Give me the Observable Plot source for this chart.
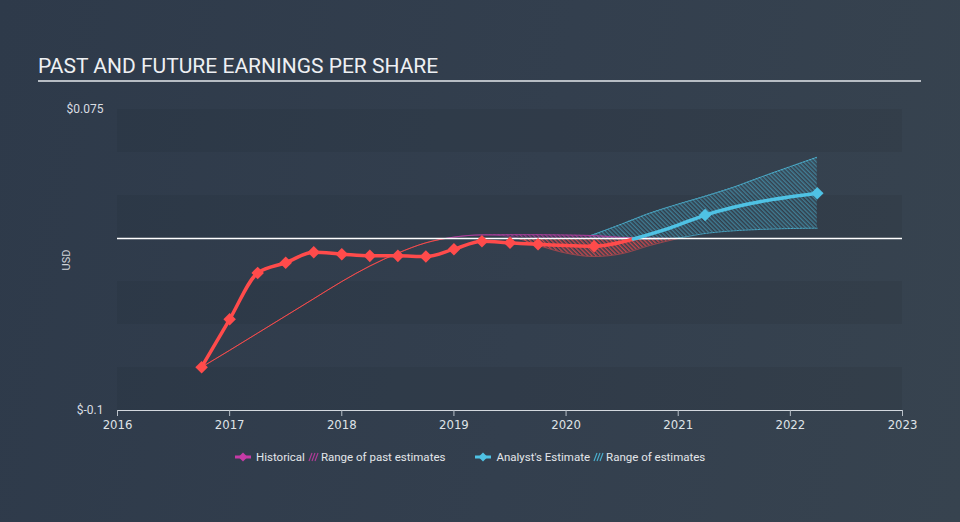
<!DOCTYPE html>
<html>
<head>
<meta charset="utf-8">
<script src="https://cdn.jsdelivr.net/npm/d3@7"></script>
<script src="https://cdn.jsdelivr.net/npm/@observablehq/plot@0.6"></script>
<style>
  html, body { margin: 0; padding: 0; }
  body {
    width: 960px; height: 522px; overflow: hidden; position: relative;
    background: linear-gradient(100deg, #2e3a4a 0%, #333f4e 55%, #37434f 100%);
    font-family: Roboto, "Noto Sans", sans-serif;
  }
  #title {
    position: absolute; left: 38px; top: 54px; font-size: 21px; color: #eef0f3;
    letter-spacing: 0; white-space: nowrap;
  }
  #rule { position: absolute; left: 38px; top: 80px; width: 883px; height: 2px; background: #b7bdc4; }
  #chart { position: absolute; left: 0; top: 0; }
  #usd {
    position: absolute; left: 66px; top: 260px; font-size: 11px; color: #cfd4da;
    transform: translate(-50%, -50%) rotate(-90deg);
  }
  #legend {
    position: absolute; left: 234px; top: 449px; height: 16px; display: flex; align-items: center;
    font-size: 11.5px; color: #e3e6ea; white-space: nowrap;
  }
  #legend svg { display: block; }
  .x-ticks text { font-family: "Liberation Sans Narrow", "DejaVu Sans Condensed", Roboto, sans-serif; }
</style>
</head>
<body>
<div id="title">PAST AND FUTURE EARNINGS PER SHARE</div>
<div id="rule"></div>
<div id="chart"></div>
<div id="usd">USD</div>
<div id="legend"></div>
<script>
// ---- data ----
const xTicks = [2016, 2017, 2018, 2019, 2020, 2021, 2022, 2023];
const yTicks = [-0.1, 0.075];
const bandTops = [0.075, 0.025, -0.025, -0.075];
const bandBottoms = [0.05, 0.0, -0.05, -0.1];

// historical EPS (last point is where the line hands over to the estimate, no marker)
const histX = [2016.75, 2017.0, 2017.25, 2017.5, 2017.75, 2018.0, 2018.25, 2018.5, 2018.75, 2019.0, 2019.25, 2019.5, 2019.75, 2020.25, 2020.6];
const histY = [-0.0748, -0.047, -0.020, -0.0141, -0.008, -0.0091, -0.0101, -0.0101, -0.0105, -0.0062, -0.0016, -0.0025, -0.0034, -0.0045, -0.0003];

// range of past estimates
const pastX = [2016.75, 2017.0, 2017.25, 2017.5, 2017.75, 2018.0, 2018.25, 2018.5, 2018.75, 2019.0, 2019.25, 2019.5, 2019.75, 2020.0, 2020.25, 2020.5, 2020.75, 2021.0];
const pastHigh = [-0.0748, -0.065, -0.055, -0.045, -0.035, -0.025, -0.016, -0.0085, -0.0025, 0.0008, 0.0021, 0.0022, 0.0022, 0.002, 0.0017, 0.0006, 0.0001, 0.0];
const pastLow = [-0.0748, -0.065, -0.055, -0.045, -0.035, -0.025, -0.016, -0.0085, -0.0025, 0.0008, 0.0021, 0.0012, -0.004, -0.0085, -0.0105, -0.0088, -0.004, 0.0];

// analyst estimate
const estX = [2020.6, 2020.93, 2021.24, 2022.24];
const estY = [-0.0003, 0.0062, 0.0136, 0.0263];
const estMarkX = [2021.24, 2022.24];
const estMarkY = [0.0136, 0.0263];

// range of estimates
const rangeX = [2020.22, 2020.5, 2020.75, 2021.0, 2021.25, 2021.5, 2021.75, 2022.0, 2022.24];
const rangeHigh = [0.0017, 0.0085, 0.0148, 0.020, 0.0248, 0.030, 0.036, 0.0418, 0.0473];
const rangeLow = [0.0, -0.0003, -0.0005, 0.0004, 0.003, 0.0045, 0.0053, 0.0058, 0.006];

// ---- colours ----
const RED = "#ff4b4b";
const PURPLE = "#b13da0";
const BLUE = "#4fc2e4";
const LEGEND_PURPLE = "#c53ba6";

// ---- tables ----
const bands = bandTops.map((t, i) => ({top: t, bottom: bandBottoms[i]}));
const hist = histX.map((x, i) => ({x, y: histY[i]}));
const histMarks = hist.slice(0, hist.length - 1);
const past = pastX.map((x, i) => ({x, hi: pastHigh[i], lo: pastLow[i]}));
const est = estX.map((x, i) => ({x, y: estY[i]}));
const estMarks = estMarkX.map((x, i) => ({x, y: estMarkY[i]}));
const range = rangeX.map((x, i) => ({x, hi: rangeHigh[i], lo: rangeLow[i]}));

const chart = Plot.plot({
  width: 960,
  height: 522,
  marginTop: 109,
  marginBottom: 112,
  marginLeft: 117,
  marginRight: 58,
  style: {background: "transparent", color: "#d3d8de", fontFamily: "Roboto, sans-serif", fontSize: "12px", overflow: "visible"},
  x: {domain: [2016, 2023], ticks: xTicks, tickFormat: d => String(d), label: null, tickSize: 6, tickPadding: 3, line: true},
  y: {domain: [-0.1, 0.075], ticks: yTicks, tickFormat: d => "$" + d, label: null, tickSize: 0, tickPadding: 14},
  marks: [
    Plot.rect(bands, {x1: () => 2016, x2: () => 2023, y1: "bottom", y2: "top", fill: "#1c2530", fillOpacity: 0.13}),
    // range of estimates
    Plot.areaY(range, {x: "x", y1: "lo", y2: "hi", fill: "url(#hatchBlue)", curve: "monotone-x"}),
    Plot.line(range, {x: "x", y: "hi", stroke: BLUE, strokeWidth: 1, strokeOpacity: 0.8, strokeDasharray: "2,1", curve: "monotone-x"}),
    Plot.line(range, {x: "x", y: "lo", stroke: BLUE, strokeWidth: 1, strokeOpacity: 0.8, strokeDasharray: "2,1", curve: "monotone-x"}),
    // range of past estimates, split at zero
    Plot.areaY(past, {x: "x", y1: d => Math.max(d.lo, 0), y2: d => Math.max(d.hi, 0), fill: "url(#hatchPurple)", curve: "monotone-x"}),
    Plot.areaY(past, {x: "x", y1: d => Math.min(d.lo, 0), y2: d => Math.min(d.hi, 0), fill: "url(#hatchRed)", curve: "monotone-x"}),
    Plot.line(past, {x: "x", y: "lo", stroke: "url(#pastGrad)", strokeWidth: 1, strokeOpacity: 0.5, curve: "monotone-x"}),
    Plot.line(past, {x: "x", y: "hi", stroke: "url(#pastGrad)", strokeWidth: 1, strokeOpacity: 0.9, curve: "monotone-x"}),
    // zero line
    Plot.ruleY([0], {stroke: "#ffffff", strokeWidth: 1.5}),
    // historical
    Plot.line(hist, {x: "x", y: "y", stroke: RED, strokeWidth: 3.5, curve: "monotone-x"}),
    Plot.dot(histMarks, {x: "x", y: "y", symbol: "square", rotate: 45, r: 5, fill: RED, stroke: "none"}),
    // estimate
    Plot.line(est, {x: "x", y: "y", stroke: BLUE, strokeWidth: 3.5, curve: "monotone-x"}),
    Plot.dot(estMarks, {x: "x", y: "y", symbol: "square", rotate: 45, r: 5, fill: BLUE, stroke: "none"})
  ]
});

// defs: hatch patterns + colour split at zero
const zeroY = chart.scale("y").apply(0);
const svg = d3.select(chart.tagName.toLowerCase() === "svg" ? chart : chart.querySelector("svg"));
const defs = svg.insert("defs", ":first-child");
function hatch(id, color, opacity) {
  const p = defs.append("pattern").attr("id", id).attr("patternUnits", "userSpaceOnUse")
    .attr("width", 3).attr("height", 3).attr("patternTransform", "rotate(-45)");
  p.append("line").attr("x1", 0.75).attr("y1", 0).attr("x2", 0.75).attr("y2", 3)
    .attr("stroke", color).attr("stroke-width", 1.4).attr("stroke-opacity", opacity);
}
hatch("hatchBlue", BLUE, 0.5);
hatch("hatchRed", RED, 0.75);
hatch("hatchPurple", PURPLE, 0.75);
const g = defs.append("linearGradient").attr("id", "pastGrad").attr("gradientUnits", "userSpaceOnUse")
  .attr("x1", 0).attr("x2", 0).attr("y1", zeroY + 1.5).attr("y2", zeroY - 0.5);
g.append("stop").attr("offset", 0).attr("stop-color", RED);
g.append("stop").attr("offset", 1).attr("stop-color", PURPLE);

// axis styling
svg.selectAll("[aria-label='x-axis'] path, [aria-label='x-axis'] line, [aria-label='x-axis tick']").attr("stroke", "#b9c0c8");
svg.selectAll("[aria-label='x-axis'], [aria-label='x-axis tick label']").classed("x-ticks", true);
svg.selectAll("[aria-label='x-axis'] text, [aria-label='x-axis tick label'] text").style("font-size", "13px").attr("fill", "#dfe3e7");
svg.selectAll("[aria-label='y-axis'] text, [aria-label='y-axis tick label'] text").style("font-size", "12px").attr("fill", "#d9dde2");

document.getElementById("chart").appendChild(chart);

// legend
const legend = d3.select("#legend");
function lineIcon(color) {
  const s = legend.append("svg").attr("width", 18).attr("height", 12);
  s.append("line").attr("x1", 1).attr("x2", 17).attr("y1", 6).attr("y2", 6).attr("stroke", color).attr("stroke-width", 3);
  s.append("path").attr("d", "M9,1.5 L13.5,6 L9,10.5 L4.5,6 Z").attr("fill", color);
  return s;
}
function hatchIcon(color) {
  const s = legend.append("svg").attr("width", 11).attr("height", 12).style("margin", "0 2px 0 3px");
  [0, 3, 6].forEach(o => s.append("line").attr("x1", 1 + o).attr("y1", 10).attr("x2", 4 + o).attr("y2", 2)
    .attr("stroke", color).attr("stroke-width", 1.2).attr("stroke-opacity", 0.85));
  return s;
}
function label(t, ml) {
  legend.append("span").text(t).style("margin-left", ml + "px");
}
lineIcon(LEGEND_PURPLE);
label("Historical", 4);
hatchIcon(LEGEND_PURPLE);
label("Range of past estimates", 0);
legend.append("span").style("display", "inline-block").style("width", "29px");
lineIcon(BLUE);
label("Analyst's Estimate", 4);
hatchIcon(BLUE);
label("Range of estimates", 0);
</script>
</body>
</html>
